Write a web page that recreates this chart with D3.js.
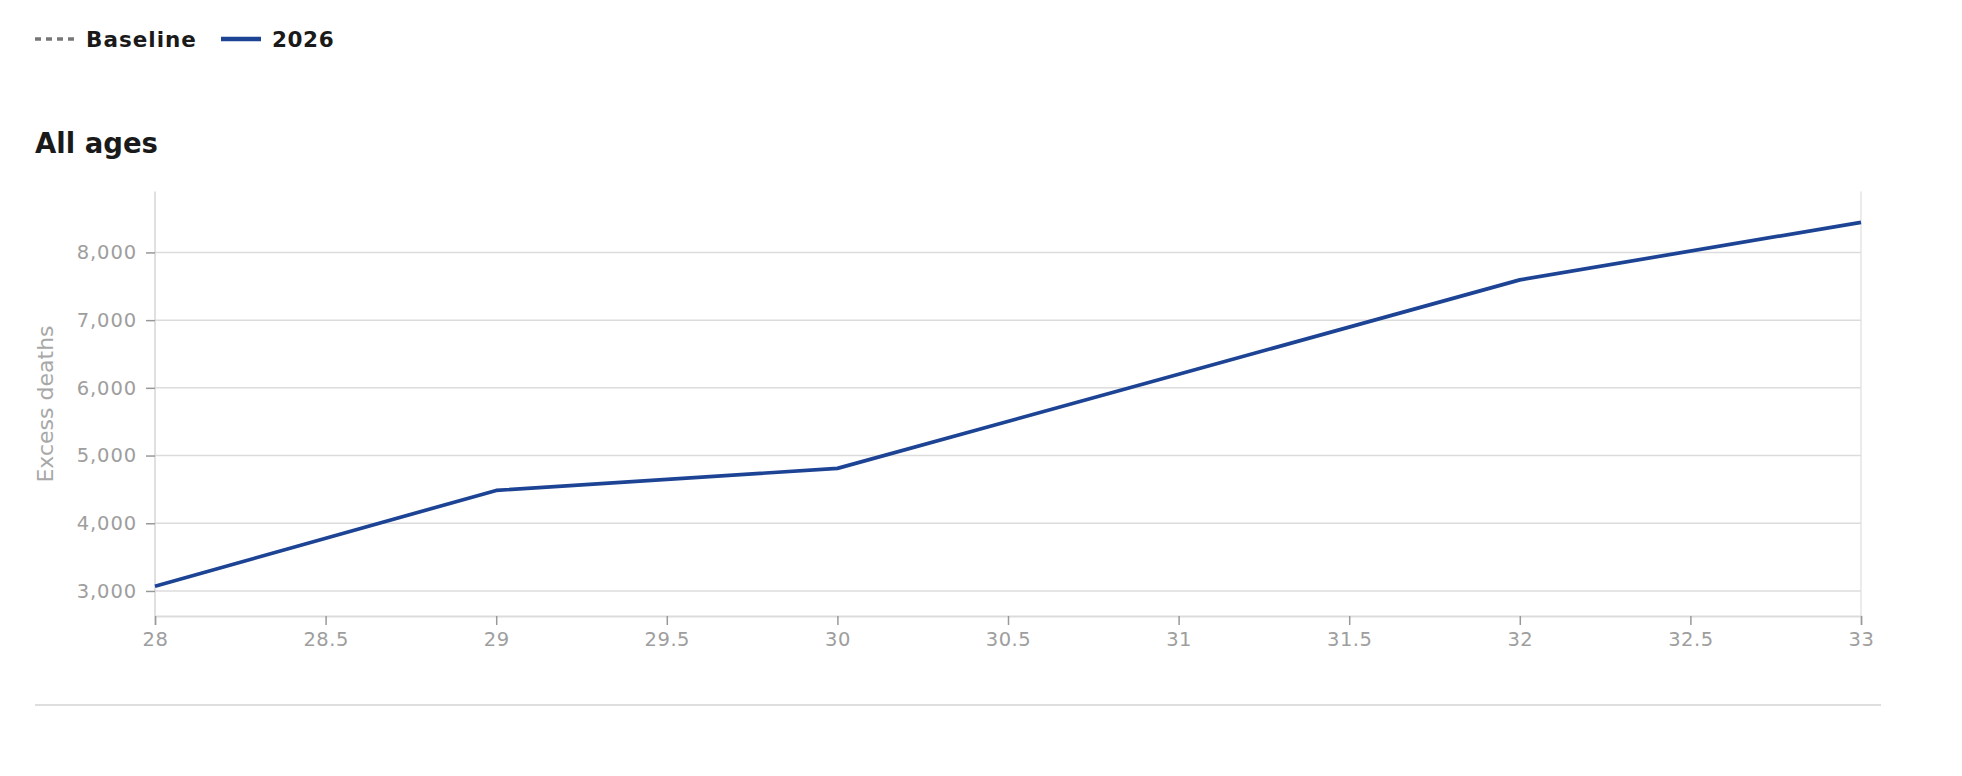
<!DOCTYPE html>
<html>
<head>
<meta charset="utf-8">
<script src="https://cdn.jsdelivr.net/npm/d3@7"></script>
<style>
  html, body { margin: 0; padding: 0; background: #fff; }
  svg { display: block; }
  text { font-family: "DejaVu Sans", "Noto Sans", sans-serif; }
</style>
</head>
<body>
<svg id="chart" width="1962" height="776"></svg>
<script>
// ---- data ----
const weeks = [28, 29, 30, 31, 32, 33];
const values2026 = [3070, 4485, 4810, 6200, 7595, 8445];
const yTicks = [3000, 4000, 5000, 6000, 7000, 8000];
const xTicks = [28, 28.5, 29, 29.5, 30, 30.5, 31, 31.5, 32, 32.5, 33];
const legendItems = ["Baseline", "2026"];
const titleText = "All ages";
const yLabel = "Excess deaths";

const FONT = "'DejaVu Sans', 'Noto Sans', sans-serif";
const svg = d3.select("#chart");
const plot = { left: 155, right: 1861, top: 191.5, bottom: 616 };

const x = d3.scaleLinear().domain([28, 33]).range([plot.left, plot.right]);
const y = d3.scaleLinear().domain([2630, 8900]).range([plot.bottom, plot.top]);

// legend
const lg = svg.append("g");
lg.append("line").attr("x1", 35).attr("x2", 75).attr("y1", 39).attr("y2", 39)
  .attr("stroke", "#777").attr("stroke-width", 3.5).attr("stroke-dasharray", "6,5");
lg.append("text").attr("x", 86).attr("y", 47).text(legendItems[0])
  .attr("font-size", 21.5).attr("font-weight", 700).attr("letter-spacing", 1.0).attr("fill", "#1a1a1a");
lg.append("line").attr("x1", 221).attr("x2", 261).attr("y1", 39).attr("y2", 39)
  .attr("stroke", "#1d4494").attr("stroke-width", 4.5);
lg.append("text").attr("x", 272).attr("y", 47).text(legendItems[1])
  .attr("font-size", 21.5).attr("font-weight", 700).attr("letter-spacing", 0.6).attr("fill", "#1a1a1a");

// title
svg.append("text").attr("x", 35).attr("y", 152.5).text(titleText)
  .attr("font-size", 27.5).attr("font-weight", 700).attr("fill", "#1a1a1a");

// gridlines
svg.append("g").selectAll("line").data(yTicks).join("line")
  .attr("x1", plot.left).attr("x2", plot.right)
  .attr("y1", d => y(d)).attr("y2", d => y(d))
  .attr("stroke", "#dcdcdc").attr("stroke-width", 1.5);

// frame lines (left & right verticals)
svg.append("line").attr("x1", plot.left).attr("x2", plot.left)
  .attr("y1", plot.top).attr("y2", plot.bottom).attr("stroke", "#d6d6d6").attr("stroke-width", 1.5);
svg.append("line").attr("x1", plot.right).attr("x2", plot.right)
  .attr("y1", plot.top).attr("y2", plot.bottom).attr("stroke", "#dedede").attr("stroke-width", 1.2);

// y axis
const yAxis = svg.append("g").attr("transform", `translate(${plot.left},0)`)
  .call(d3.axisLeft(y).tickValues(yTicks).tickFormat(d3.format(",")).tickSize(9).tickPadding(9));
yAxis.select(".domain").remove();
yAxis.selectAll(".tick line").attr("stroke", "#999").attr("stroke-width", 1.5);
yAxis.selectAll(".tick text").attr("fill", "#9e9e9e").attr("font-size", 19.5)
  .attr("letter-spacing", 0.9).style("font-family", FONT);

// x axis
const xAxis = svg.append("g").attr("transform", `translate(0,${plot.bottom})`)
  .call(d3.axisBottom(x).tickValues(xTicks).tickFormat(d => String(d)).tickSize(9).tickPadding(7));
xAxis.select(".domain").attr("stroke", "#dcdcdc").attr("stroke-width", 2);
xAxis.selectAll(".tick line").attr("stroke", "#999").attr("stroke-width", 1.5);
xAxis.selectAll(".tick text").attr("fill", "#9e9e9e").attr("font-size", 19.5)
  .attr("letter-spacing", 0.5).style("font-family", FONT);

// y label
svg.append("text")
  .attr("transform", `translate(${53},${404}) rotate(-90)`)
  .attr("text-anchor", "middle")
  .attr("font-size", 22).attr("fill", "#a8a8a8").text(yLabel);

// line
const line = d3.line().x((d, i) => x(weeks[i])).y(d => y(d));
svg.append("path").datum(values2026).attr("d", line)
  .attr("fill", "none").attr("stroke", "#1d4494").attr("stroke-width", 3.7)
  .attr("stroke-linejoin", "round");

// bottom separator
svg.append("line").attr("x1", 35).attr("x2", 1881).attr("y1", 705).attr("y2", 705)
  .attr("stroke", "#dedede").attr("stroke-width", 2);
</script>
</body>
</html>
